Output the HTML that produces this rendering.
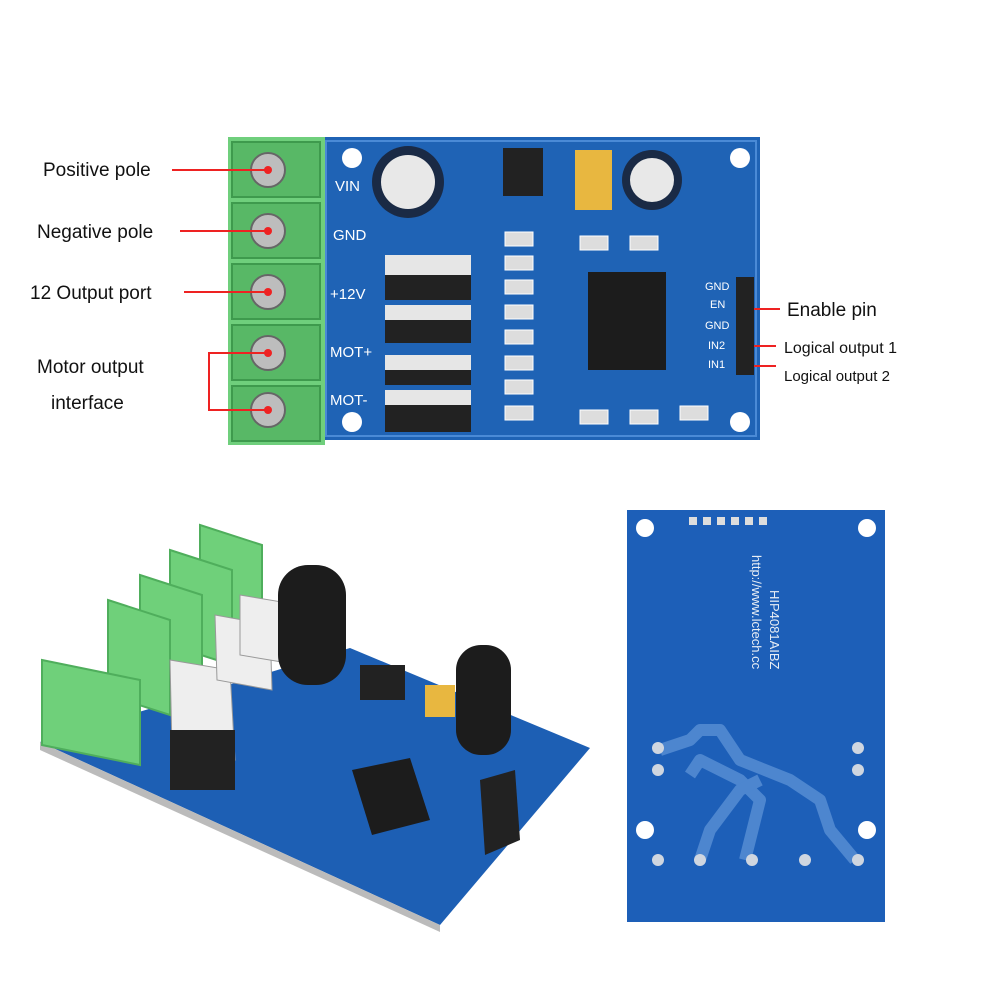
<!DOCTYPE html>
<html><head><meta charset="utf-8"><style>
html,body{margin:0;padding:0;background:#fff}
svg{display:block}
text{font-family:"Liberation Sans",sans-serif}
</style></head><body>
<svg width="1000" height="1000" viewBox="0 0 1000 1000" xmlns="http://www.w3.org/2000/svg">
<rect width="1000" height="1000" fill="#fff"/>
<!-- TOP BOARD -->
<rect x="322" y="137" width="438" height="303" fill="#1f63b5"/>
<rect x="326" y="141" width="430" height="295" fill="none" stroke="#4a8ad6" stroke-width="2"/>
<circle cx="352" cy="158" r="10" fill="#fff"/><circle cx="740" cy="158" r="10" fill="#fff"/>
<circle cx="352" cy="422" r="10" fill="#fff"/><circle cx="740" cy="422" r="10" fill="#fff"/>
<!-- terminals -->
<rect x="228" y="137" width="97" height="308" fill="#6fcf7c"/>
<g fill="#58b866" stroke="#3e9a4d" stroke-width="2">
<rect x="232" y="142" width="88" height="55"/><rect x="232" y="203" width="88" height="55"/>
<rect x="232" y="264" width="88" height="55"/><rect x="232" y="325" width="88" height="55"/>
<rect x="232" y="386" width="88" height="55"/></g>
<g fill="#bdbdbd" stroke="#666" stroke-width="2">
<circle cx="268" cy="170" r="17"/><circle cx="268" cy="231" r="17"/><circle cx="268" cy="292" r="17"/>
<circle cx="268" cy="353" r="17"/><circle cx="268" cy="410" r="17"/></g>
<g fill="#e22"><circle cx="268" cy="170" r="4"/><circle cx="268" cy="231" r="4"/><circle cx="268" cy="292" r="4"/><circle cx="268" cy="353" r="4"/><circle cx="268" cy="410" r="4"/></g>
<g stroke="#e22" stroke-width="2" fill="none">
<line x1="172" y1="170" x2="268" y2="170"/><line x1="180" y1="231" x2="268" y2="231"/>
<line x1="184" y1="292" x2="268" y2="292"/>
<polyline points="268,353 209,353 209,410 268,410"/>
<line x1="748" y1="309" x2="780" y2="309"/><line x1="748" y1="346" x2="776" y2="346"/><line x1="748" y1="366" x2="776" y2="366"/>
</g>
<g fill="#e22"><circle cx="748" cy="309" r="4"/><circle cx="748" cy="346" r="4"/><circle cx="748" cy="366" r="4"/></g>
<g font-size="19" fill="#111">
<text x="43" y="176">Positive pole</text>
<text x="37" y="238">Negative pole</text>
<text x="30" y="299">12 Output port</text>
<text x="37" y="373">Motor output</text>
<text x="51" y="409">interface</text>
<text x="787" y="316">Enable pin</text>
</g>
<text x="784" y="353" font-size="16" fill="#111">Logical output 1</text>
<text x="784" y="381" font-size="15" fill="#111">Logical output 2</text>
<g fill="#fff" font-size="15">
<text x="335" y="191">VIN</text><text x="333" y="240">GND</text><text x="330" y="299">+12V</text>
<text x="330" y="357">MOT+</text><text x="330" y="405">MOT-</text></g>
<g fill="#fff" font-size="11"><text x="705" y="290">GND</text><text x="710" y="308">EN</text><text x="705" y="329">GND</text><text x="708" y="349">IN2</text><text x="708" y="368">IN1</text></g>
<!-- components -->
<circle cx="408" cy="182" r="36" fill="#1a2a45"/><circle cx="408" cy="182" r="27" fill="#e8e8e8"/>
<circle cx="652" cy="180" r="30" fill="#1a2a45"/><circle cx="652" cy="180" r="22" fill="#e8e8e8"/>
<rect x="503" y="148" width="40" height="48" fill="#222"/>
<rect x="575" y="150" width="37" height="60" fill="#e8b740"/>
<g fill="#222"><rect x="385" y="255" width="86" height="45"/><rect x="385" y="305" width="86" height="38"/><rect x="385" y="355" width="86" height="30"/><rect x="385" y="390" width="86" height="42"/></g>
<g fill="#e6e6e6"><rect x="385" y="255" width="86" height="20"/><rect x="385" y="305" width="86" height="15"/><rect x="385" y="355" width="86" height="15"/><rect x="385" y="390" width="86" height="15"/></g>
<rect x="588" y="272" width="78" height="98" fill="#1c1c1c"/>
<rect x="736" y="277" width="18" height="98" fill="#222"/>
<g fill="#ddd" stroke="#fff" stroke-width="1">
<rect x="505" y="232" width="28" height="14"/><rect x="505" y="256" width="28" height="14"/><rect x="505" y="280" width="28" height="14"/>
<rect x="505" y="305" width="28" height="14"/><rect x="505" y="330" width="28" height="14"/><rect x="505" y="356" width="28" height="14"/>
<rect x="505" y="380" width="28" height="14"/><rect x="505" y="406" width="28" height="14"/>
<rect x="580" y="236" width="28" height="14"/><rect x="630" y="236" width="28" height="14"/>
<rect x="580" y="410" width="28" height="14"/><rect x="630" y="410" width="28" height="14"/><rect x="680" y="406" width="28" height="14"/>
</g>
<!-- BOTTOM LEFT BOARD -->
<polygon points="40,742 350,648 590,748 440,925" fill="#1d5fb4"/>
<polygon points="40,742 440,925 440,932 40,750" fill="#bbb"/>
<g fill="#6fd07a" stroke="#4fae5c" stroke-width="2">
<polygon points="200,525 262,545 262,640 200,620"/>
<polygon points="170,550 232,570 232,665 170,645"/>
<polygon points="140,575 202,595 202,690 140,670"/>
<polygon points="108,600 170,620 170,715 108,695"/>
<polygon points="42,660 140,680 140,765 42,745"/>
</g>
<g fill="#eee" stroke="#999"><polygon points="170,660 230,670 235,760 172,750"/><polygon points="215,615 270,625 272,690 217,680"/><polygon points="240,595 300,605 300,665 240,655"/></g>
<rect x="170" y="730" width="65" height="60" fill="#222"/>
<rect x="278" y="565" width="68" height="120" rx="30" fill="#1c1c1c"/>
<rect x="456" y="645" width="55" height="110" rx="25" fill="#1c1c1c"/>
<rect x="360" y="665" width="45" height="35" fill="#222"/>
<rect x="425" y="685" width="30" height="32" fill="#e8b740"/>
<polygon points="352,770 410,758 430,820 372,835" fill="#1c1c1c"/>
<polygon points="480,780 515,770 520,840 485,855" fill="#222"/>
<!-- BOTTOM RIGHT BOARD -->
<rect x="627" y="510" width="258" height="412" fill="#1d5fb8"/>
<g fill="#fff"><circle cx="645" cy="528" r="9"/><circle cx="867" cy="528" r="9"/><circle cx="645" cy="830" r="9"/><circle cx="867" cy="830" r="9"/></g>
<g fill="none" stroke="#4d86cf" stroke-width="12" stroke-linejoin="round">
<polyline points="660,750 690,740 700,730 720,730 740,760 790,780 820,800 830,830 855,860"/>
<polyline points="690,775 700,760 740,780 760,800 745,860"/>
<polyline points="700,860 710,830 740,790 760,780"/>
</g>
<g fill="#cfd6e0"><circle cx="658" cy="748" r="6"/><circle cx="658" cy="770" r="6"/><circle cx="658" cy="860" r="6"/><circle cx="700" cy="860" r="6"/><circle cx="752" cy="860" r="6"/><circle cx="805" cy="860" r="6"/><circle cx="858" cy="860" r="6"/><circle cx="858" cy="770" r="6"/><circle cx="858" cy="748" r="6"/></g>
<g fill="#ddd"><rect x="689" y="517" width="8" height="8"/><rect x="703" y="517" width="8" height="8"/><rect x="717" y="517" width="8" height="8"/><rect x="731" y="517" width="8" height="8"/><rect x="745" y="517" width="8" height="8"/><rect x="759" y="517" width="8" height="8"/></g>
<g fill="#e8eef5" font-size="13" font-family="Liberation Mono,monospace">
<text transform="translate(752,555) rotate(90)">http://www.lctech.cc</text>
<text transform="translate(770,590) rotate(90)">HIP4081AIBZ</text></g>
</svg>
</body></html>
